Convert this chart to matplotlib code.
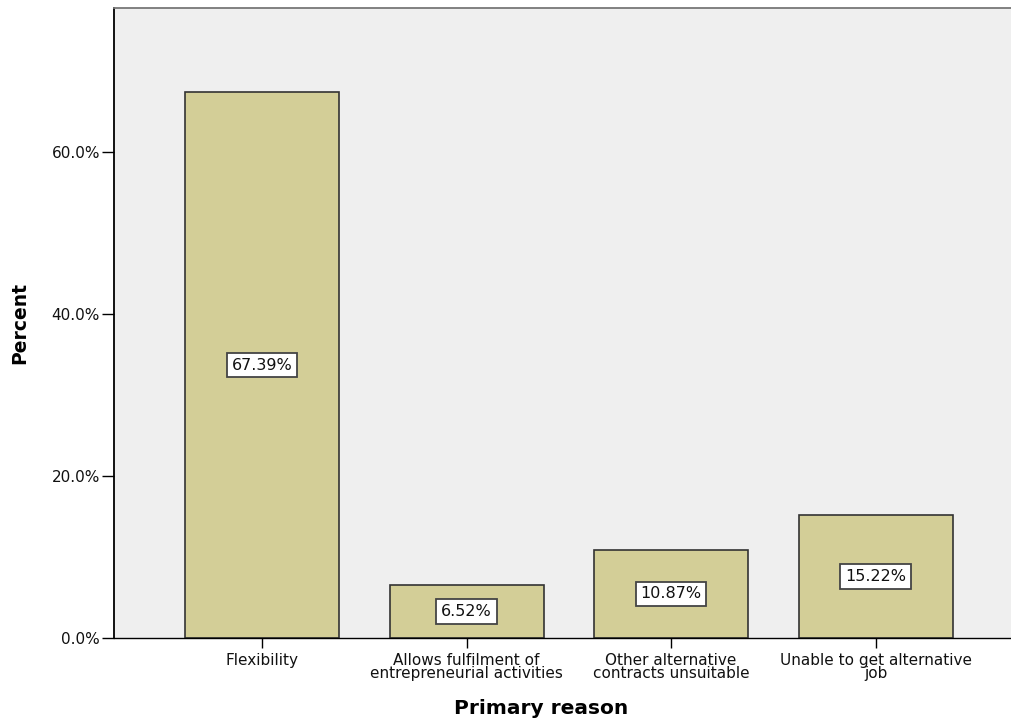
import matplotlib
matplotlib.use("Agg")
import matplotlib.pyplot as plt
from matplotlib.ticker import FuncFormatter

categories = ["Flexibility",
              "Allows fulfilment of\nentrepreneurial activities",
              "Other alternative\ncontracts unsuitable",
              "Unable to get alternative\njob"]
values = [67.39, 6.52, 10.87, 15.22]
yticks = [0, 20, 40, 60]

W, H = 1012, 724
fig = plt.figure(figsize=(W / 100, H / 100), dpi=100)
ax = fig.add_axes([114 / W, (H - 638) / H, (W - 114) / W, 630 / H])
ax.set_facecolor("#efefef")

xs = list(range(len(categories)))
ax.bar(xs, values, width=0.753, color="#d3ce97", edgecolor="#333333", linewidth=1.2, zorder=2)

for x, v in zip(xs, values):
    ax.text(x, v / 2, f"{v:.2f}%", ha="center", va="center", fontsize=11.5,
            family="DejaVu Sans", color="#111111", zorder=3,
            bbox=dict(boxstyle="square,pad=0.3", facecolor="white", edgecolor="#444444", linewidth=1.3))

ax.set_xlim(-0.724, -0.724 + 898 / 204.5)
ax.set_ylim(0, 77.8)
ax.set_yticks(yticks)
ax.yaxis.set_major_formatter(FuncFormatter(lambda v, p: f"{v:.1f}%"))
ax.set_xticks(xs)
ax.set_xticklabels(categories, linespacing=0.8)

for lab in ax.get_xticklabels() + ax.get_yticklabels():
    lab.set_family("DejaVu Sans")
    lab.set_fontsize(11)
    lab.set_color("#111111")

ax.tick_params(axis="y", length=8.5, width=1.0, pad=1.5)
ax.tick_params(axis="x", length=7, width=1.0, pad=4)

ax.spines["left"].set_color("black")
ax.spines["left"].set_linewidth(1.3)
ax.spines["bottom"].set_color("black")
ax.spines["bottom"].set_linewidth(1.0)
ax.spines["top"].set_color("#777777")
ax.spines["top"].set_linewidth(1.3)
ax.spines["right"].set_visible(False)

fig.text(20 / W, 1 - 323 / H, "Percent", rotation=90, ha="center", va="center",
         fontsize=13.5, fontweight="bold", family="DejaVu Sans")
fig.text(541 / W, 1 - 709 / H, "Primary reason", ha="center", va="center",
         fontsize=14.5, fontweight="bold", family="DejaVu Sans")

fig.savefig("out.png", dpi=100)
